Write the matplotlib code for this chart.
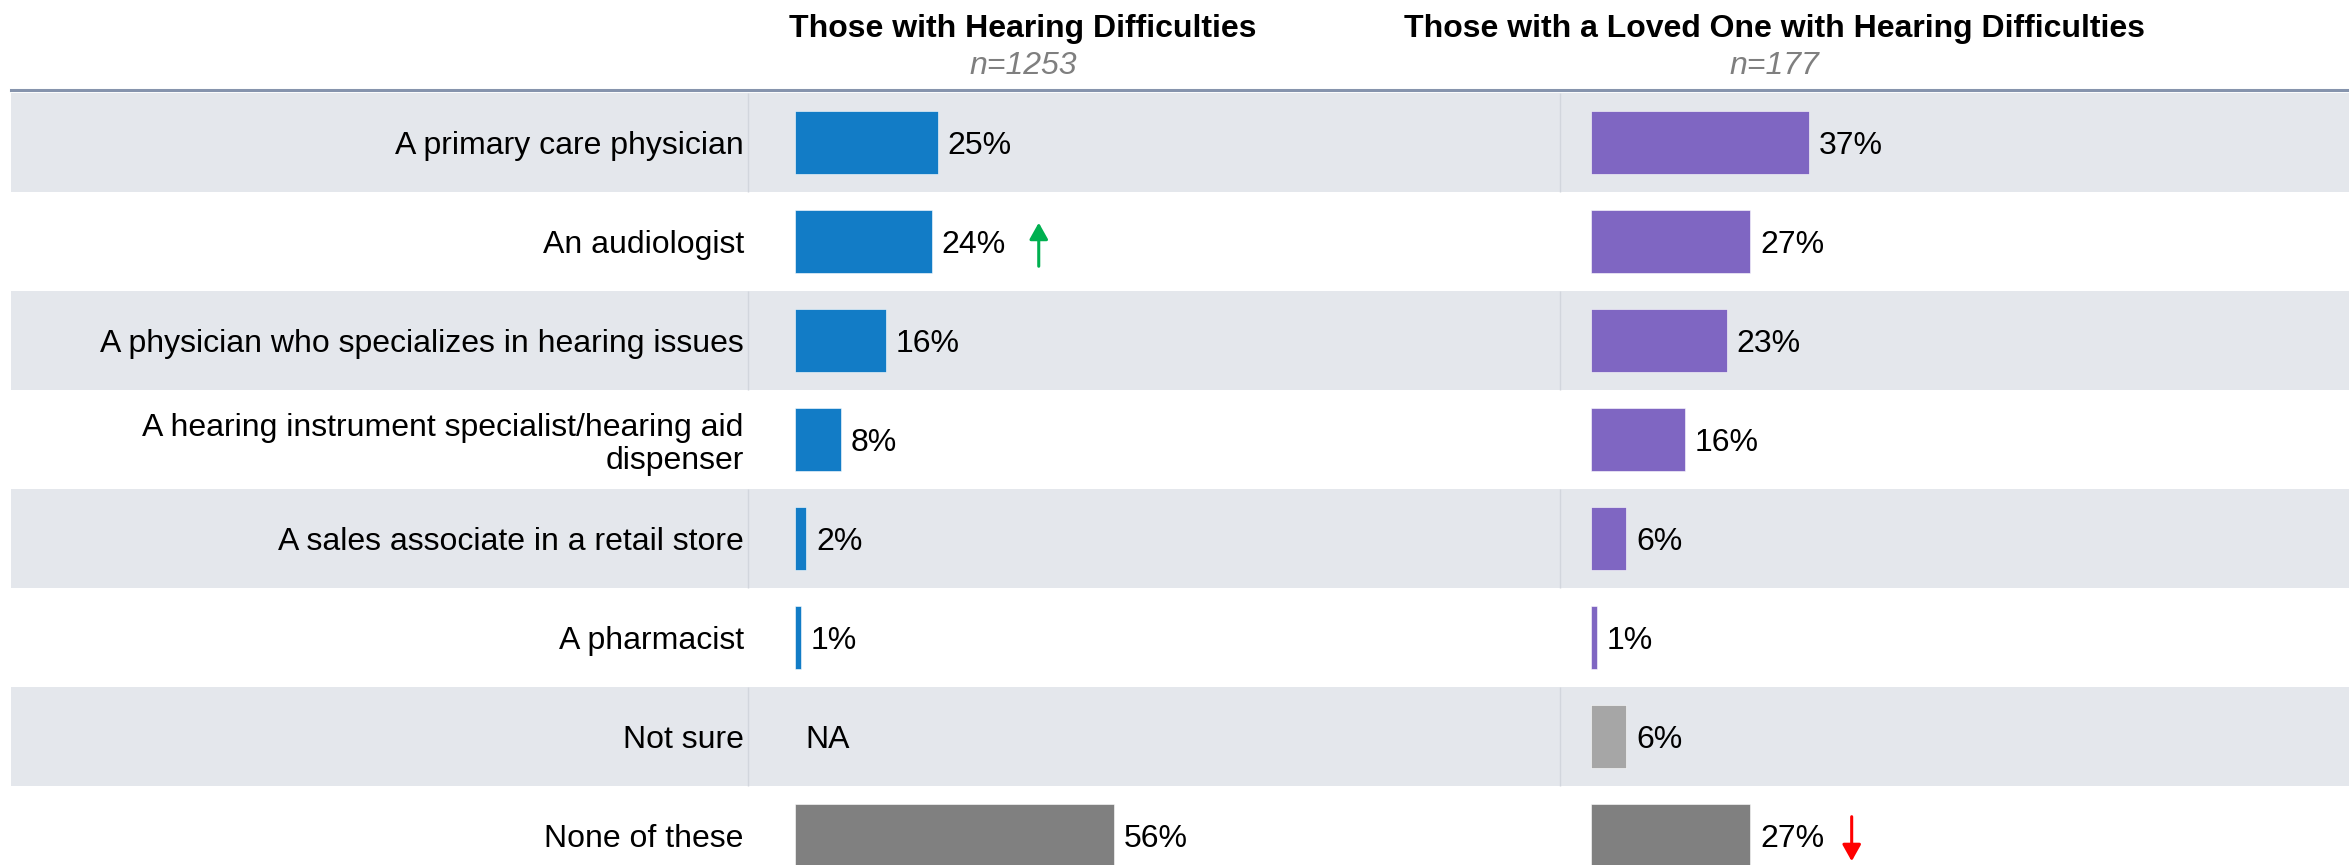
import matplotlib
matplotlib.use("Agg")
import matplotlib.pyplot as plt
from matplotlib.lines import Line2D
from matplotlib import transforms

plt.rcParams["font.family"] = ["Liberation Sans", "DejaVu Sans"]

categories = [
    "A primary care physician",
    "An audiologist",
    "A physician who specializes in hearing issues",
    "A hearing instrument specialist/hearing aid\ndispenser",
    "A sales associate in a retail store",
    "A pharmacist",
    "Not sure",
    "None of these",
]
hearing = [25, 24, 16, 8, 2, 1, None, 56]
loved_one = [37, 27, 23, 16, 6, 1, 6, 27]
titles = ["Those with Hearing Difficulties", "Those with a Loved One with Hearing Difficulties"]
sample_sizes = ["n=1253", "n=177"]
# significance markers: (row, direction)
hearing_marks = {1: "up"}
loved_marks = {7: "down"}

W, H = 2349, 865
FS = 23
BLUE = "#127CC6"
PURPLE = "#7F66C2"
GREY_NONE = "#808080"
GREY_NOTSURE = "#A6A6A6"
BAND = "#E4E7EC"

fig = plt.figure(figsize=(W / 100, H / 100), dpi=100)


def box(x0, x1, top, bottom):
    return [x0 / W, 1 - bottom / H, (x1 - x0) / W, (bottom - top) / H]


row_h = 99.0
top = 93
ylim = (-0.5 + (H - top) / row_h, -0.5)

bg = fig.add_axes(box(11, W, top, H))
bg.set_xlim(11, W)
bg.set_ylim(*ylim)
bg.axis("off")
n = len(categories)
for i in range(0, n, 2):
    bg.axhspan(i - 0.5, i + 0.5, color=BAND, lw=0)
    bg.vlines([748, 1560], i - 0.5, i + 0.5, color="#D2D6DD", lw=1)

ax_l = fig.add_axes(box(748, 1560, top, H), sharey=bg)
ax_r = fig.add_axes(box(1560, W, top, H), sharey=bg)
ax_l.set_xlim(-47 / 5.7, (1560 - 795) / 5.7)
ax_r.set_xlim(-31 / 5.9, (W - 1591) / 5.9)
for ax in (ax_l, ax_r):
    ax.set_facecolor("none")
    for s in ax.spines.values():
        s.set_visible(False)
    ax.set_xticks([])
    ax.tick_params(axis="y", length=0)

ax_r.tick_params(axis="y", labelleft=False)
ax_l.set_yticks(range(n))
ax_l.set_yticklabels(categories, fontsize=FS, linespacing=1.15)
ax_l.tick_params(axis="y", pad=3)
ax_l.set_ylim(*ylim)


def draw(ax, values, colors, marks, arrow_dx):
    for i, v in enumerate(values):
        if v is None:
            ax.text(1.9, i, "NA", fontsize=FS, va="center_baseline", ha="left")
            continue
        ax.barh(i, v, height=0.64, color=colors[i], edgecolor="white", lw=0.4)
        ax.annotate(f"{v}%", (v, i), xytext=(7, 0), textcoords="offset points",
                    fontsize=FS, va="center_baseline", ha="left")
    for i, d in marks.items():
        v = values[i]
        tr = transforms.offset_copy(ax.transData, fig=fig, x=arrow_dx, y=0, units="points")
        if d == "up":
            start, end, col = i + 0.25, i - 0.19, "#00B050"
        else:
            start, end, col = i - 0.19, i + 0.26, "#FF0000"
        ax.annotate("", xy=(v, end), xytext=(v, start), xycoords=tr, textcoords=tr,
                    arrowprops=dict(arrowstyle="-|>,head_length=0.5,head_width=0.28",
                                    color=col, lw=2.2, shrinkA=0, shrinkB=0,
                                    mutation_scale=20))


hearing_colors = [BLUE] * 6 + [GREY_NOTSURE, GREY_NONE]
loved_colors = [PURPLE] * 6 + [GREY_NOTSURE, GREY_NONE]
draw(ax_l, hearing, hearing_colors, hearing_marks, 77)
draw(ax_r, loved_one, loved_colors, loved_marks, 73)

# column headers
for cx, t, ns in zip([1023, 1774], titles, sample_sizes):
    fig.text(cx / W, 1 - 26 / H, t, fontsize=FS, fontweight="bold", ha="center",
             va="center_baseline")
    fig.text(cx / W, 1 - 62 / H, ns, fontsize=FS, fontstyle="italic", color="#7F7F7F",
             ha="center", va="center_baseline")

fig.add_artist(Line2D([11 / W, 1], [1 - 90 / H] * 2, color="#8694AD", lw=2.2))

fig.savefig("out.png", dpi=100)
